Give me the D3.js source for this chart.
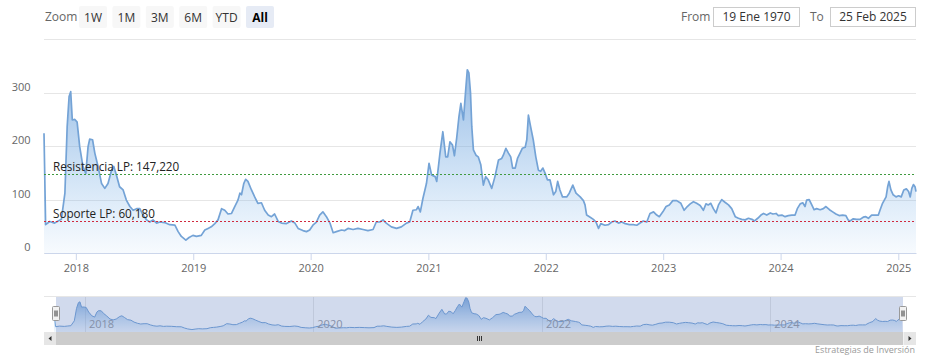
<!DOCTYPE html>
<html><head><meta charset="utf-8">
<script src="https://cdn.jsdelivr.net/npm/d3@7"></script>
<style>body{margin:0;background:#fff;} svg{display:block;font-family:"Open Sans",sans-serif;}</style>
</head><body><svg id="c" width="935" height="363"></svg>
<script>
// ---- data (date, value) ----
const s2017 = [["2017-09-24",224],["2017-09-29",53],["2017-10-12",59],["2017-10-27",56],["2017-11-07",60],["2017-11-17",63],["2017-11-28",112],["2017-12-05",236],["2017-12-11",293],["2017-12-16",302],["2017-12-21",249],["2017-12-29",250]];
const s2018 = [["2018-01-05",245],["2018-01-13",199],["2018-01-23",162],["2018-02-01",149],["2018-02-08",199],["2018-02-13",213],["2018-02-22",212],["2018-03-01",187],["2018-03-11",162],["2018-03-22",130],["2018-04-01",121],["2018-04-11",130],["2018-04-22",155],["2018-04-29",162],["2018-05-07",146],["2018-05-17",124],["2018-05-28",118],["2018-06-07",99],["2018-06-18",87],["2018-06-28",80],["2018-07-09",83],["2018-07-19",83],["2018-07-29",71],["2018-08-09",62],["2018-08-19",58],["2018-08-29",62],["2018-09-09",56],["2018-09-19",58],["2018-10-04",57],["2018-10-20",53],["2018-11-05",52],["2018-11-15",40],["2018-11-25",31],["2018-12-09",24],["2018-12-19",29],["2018-12-31",33]];
const s2019 = [["2019-01-11",31],["2019-01-26",33],["2019-02-06",43],["2019-02-16",46],["2019-02-26",49],["2019-03-09",55],["2019-03-19",62],["2019-03-30",83],["2019-04-09",80],["2019-04-19",73],["2019-04-30",74],["2019-05-10",87],["2019-05-20",99],["2019-05-26",112],["2019-05-31",109],["2019-06-07",130],["2019-06-13",138],["2019-06-20",134],["2019-07-01",118],["2019-07-11",105],["2019-07-21",93],["2019-08-01",94],["2019-08-11",80],["2019-08-22",71],["2019-09-01",68],["2019-09-11",73],["2019-09-22",59],["2019-10-02",56],["2019-10-18",55],["2019-11-02",60],["2019-11-13",56],["2019-11-23",46],["2019-12-08",42],["2019-12-19",40],["2019-12-29",43]];
const s2020 = [["2020-01-08",52],["2020-01-19",58],["2020-01-29",71],["2020-02-08",77],["2020-02-19",68],["2020-03-01",56],["2020-03-11",38],["2020-03-21",40],["2020-04-06",43],["2020-04-16",42],["2020-04-26",46],["2020-05-12",44],["2020-05-27",46],["2020-06-12",44],["2020-06-27",42],["2020-07-13",44],["2020-07-23",58],["2020-08-03",58],["2020-08-13",62],["2020-08-23",56],["2020-09-08",49],["2020-09-24",46],["2020-10-09",49],["2020-10-25",56],["2020-11-04",58],["2020-11-14",80],["2020-11-25",81],["2020-11-30",87],["2020-12-07",77],["2020-12-15",102],["2020-12-26",130]];
const s2021 = [["2021-01-03",168],["2021-01-11",146],["2021-01-22",143],["2021-01-27",134],["2021-02-06",187],["2021-02-15",227],["2021-02-24",180],["2021-03-02",180],["2021-03-09",208],["2021-03-17",202],["2021-03-23",182],["2021-03-30",215],["2021-04-06",255],["2021-04-12",280],["2021-04-20",249],["2021-04-27",305],["2021-05-02",343],["2021-05-07",337],["2021-05-12",300],["2021-05-16",236],["2021-05-21",193],["2021-05-29",183],["2021-06-05",180],["2021-06-13",165],["2021-06-21",127],["2021-06-28",143],["2021-07-06",137],["2021-07-17",121],["2021-07-27",143],["2021-08-07",174],["2021-08-17",177],["2021-08-22",183],["2021-08-30",196],["2021-09-07",187],["2021-09-14",180],["2021-09-20",159],["2021-09-28",159],["2021-10-05",177],["2021-10-13",187],["2021-10-20",196],["2021-10-29",198],["2021-11-03",212],["2021-11-08",258],["2021-11-15",236],["2021-11-23",212],["2021-12-01",180],["2021-12-09",155],["2021-12-16",153],["2021-12-23",159],["2021-12-30",149]];
const s2022 = [["2022-01-06",137],["2022-01-14",137],["2022-01-25",109],["2022-02-01",115],["2022-02-07",134],["2022-02-14",118],["2022-02-22",105],["2022-03-07",105],["2022-03-15",112],["2022-03-26",127],["2022-04-05",112],["2022-04-18",105],["2022-04-28",98],["2022-05-03",90],["2022-05-08",71],["2022-05-19",67],["2022-05-29",63],["2022-06-06",58],["2022-06-14",46],["2022-06-21",55],["2022-07-04",52],["2022-07-15",53],["2022-07-25",58],["2022-08-04",60],["2022-08-15",56],["2022-08-25",58],["2022-09-05",55],["2022-09-18",53],["2022-09-30",53],["2022-10-11",52],["2022-10-21",56],["2022-10-31",60],["2022-11-11",58],["2022-11-21",74],["2022-12-02",77],["2022-12-12",71],["2022-12-20",68],["2022-12-31",77]];
const s2023 = [["2023-01-10",87],["2023-01-20",90],["2023-01-31",98],["2023-02-12",98],["2023-02-25",93],["2023-03-07",80],["2023-03-17",87],["2023-03-26",92],["2023-04-05",96],["2023-04-15",93],["2023-04-26",89],["2023-05-06",80],["2023-05-14",92],["2023-05-21",90],["2023-05-29",93],["2023-06-06",83],["2023-06-14",75],["2023-06-22",90],["2023-07-02",100],["2023-07-12",95],["2023-07-23",90],["2023-08-02",83],["2023-08-13",68],["2023-08-23",65],["2023-09-02",63],["2023-09-13",62],["2023-09-23",65],["2023-10-04",63],["2023-10-12",60],["2023-10-22",65],["2023-11-01",71],["2023-11-09",74],["2023-11-19",71],["2023-11-30",75],["2023-12-08",73],["2023-12-18",74],["2023-12-25",70]];
const s2024 = [["2024-01-05",71],["2024-01-15",68],["2024-01-25",70],["2024-02-05",71],["2024-02-15",71],["2024-02-22",83],["2024-03-02",92],["2024-03-10",94],["2024-03-17",87],["2024-03-22",99],["2024-03-30",100],["2024-04-07",90],["2024-04-14",81],["2024-04-22",83],["2024-05-03",81],["2024-05-13",83],["2024-05-21",87],["2024-06-01",81],["2024-06-11",77],["2024-06-21",73],["2024-07-01",70],["2024-07-12",71],["2024-07-22",70],["2024-07-29",62],["2024-08-04",60],["2024-08-14",64],["2024-08-24",63],["2024-09-04",63],["2024-09-14",67],["2024-09-22",68],["2024-09-30",65],["2024-10-10",71],["2024-10-21",71],["2024-10-31",71],["2024-11-05",80],["2024-11-13",93],["2024-11-24",105],["2024-11-29",124],["2024-12-03",134],["2024-12-09",118],["2024-12-16",109],["2024-12-25",105]];
const s2025 = [["2025-01-02",107],["2025-01-10",105],["2025-01-18",118],["2025-01-26",120],["2025-02-02",115],["2025-02-07",105],["2025-02-12",121],["2025-02-17",128],["2025-02-22",124],["2025-02-25",115]];

const yTicks = [0, 100, 200, 300, 400];
const yLabelTicks = [0, 100, 200, 300];
const xTickYears = [2018, 2019, 2020, 2021, 2022, 2023, 2024, 2025];
const navTickYears = [2018, 2020, 2022, 2024];
const resistance = 147.22, resistanceLabel = "Resistencia LP: 147,220";
const support = 60.18, supportLabel = "Soporte LP: 60,180";
const zoomLabel = "Zoom";
const zoomButtons = ["1W", "1M", "3M", "6M", "YTD", "All"];
const selectedButton = "All";
const fromLabel = "From", fromValue = "19 Ene 1970";
const toLabel = "To", toValue = "25 Feb 2025";
const creditText = "Estrategias de Inversión";

// ---- build ----
const parse = d3.timeParse("%Y-%m-%d");
const data = [].concat(s2017, s2018, s2019, s2020, s2021, s2022, s2023, s2024, s2025)
  .map(([d, v]) => ({ date: parse(d), value: v }));

const svg = d3.select("#c");
const L = 44, R = 916, T = 39.3, B = 253;

const x = d3.scaleTime().domain(d3.extent(data, d => d.date)).range([L, R]);
const y = d3.scaleLinear().domain([0, 400]).range([B, T]);

const defs = svg.append("defs");
const g1 = defs.append("linearGradient").attr("id", "gMain").attr("gradientUnits", "userSpaceOnUse")
  .attr("x1", 0).attr("x2", 0).attr("y1", y(343)).attr("y2", B);
g1.append("stop").attr("offset", 0).attr("stop-color", "#6a9ed8").attr("stop-opacity", 0.7);
g1.append("stop").attr("offset", 1).attr("stop-color", "#7cb5ec").attr("stop-opacity", 0.06);

// gridlines
svg.append("g").selectAll("line").data(yTicks).join("line")
  .attr("x1", L).attr("x2", R).attr("y1", d => Math.round(y(d)) + 0.5).attr("y2", d => Math.round(y(d)) + 0.5)
  .attr("stroke", "#e6e6e6").attr("stroke-width", 1);

// y labels
svg.append("g").selectAll("text").data(yLabelTicks).join("text")
  .attr("x", 30.5).attr("y", d => y(d) - 2).attr("text-anchor", "end")
  .attr("font-size", 11).attr("fill", "#666").text(d => d);

// area + line
const area = d3.area().x(d => x(d.date)).y0(B).y1(d => y(d.value));
const line = d3.line().x(d => x(d.date)).y(d => y(d.value));
svg.append("path").datum(data).attr("d", area).attr("fill", "url(#gMain)");
svg.append("path").datum(data).attr("d", line).attr("fill", "none")
  .attr("stroke", "#74a3d6").attr("stroke-width", 1.7).attr("stroke-linejoin", "round");

// x axis
const xAxis = d3.axisBottom(x)
  .tickValues(xTickYears.map(yr => new Date(yr, 0, 1)))
  .tickFormat(d3.timeFormat("%Y")).tickSize(7).tickPadding(4).tickSizeOuter(0);
const xa = svg.append("g").attr("transform", `translate(0,${B})`).call(xAxis);
xa.select(".domain").attr("stroke", "#ccd6eb");
xa.selectAll(".tick line").attr("stroke", "#ccd6eb");
xa.selectAll(".tick text").attr("fill", "#666").attr("font-size", 11).attr("font-family", "Open Sans");

// plot lines
function plotLine(val, color, label) {
  const yy = Math.round(y(val)) + 0.5;
  svg.append("line").attr("x1", L).attr("x2", R).attr("y1", yy).attr("y2", yy)
    .attr("stroke", color).attr("stroke-width", 1).attr("stroke-dasharray", "2,2");
  svg.append("text").attr("x", 53).attr("y", y(val) - 3).attr("font-size", 11.7)
    .attr("fill", "#222").text(label);
}
plotLine(resistance, "#3f9a3f", resistanceLabel);
plotLine(support, "#d02a3e", supportLabel);

// ---- range selector ----
svg.append("text").attr("x", 45).attr("y", 21).attr("font-size", 12).attr("fill", "#666").text(zoomLabel);
const bx = d3.scalePoint().domain(zoomButtons).range([79, 246]);
const btn = svg.append("g").selectAll("g").data(zoomButtons).join("g")
  .attr("transform", d => `translate(${bx(d)},6)`);
btn.append("rect").attr("width", 28).attr("height", 22).attr("rx", 2)
  .attr("fill", d => d === selectedButton ? "#e6ebf5" : "#f7f7f7");
btn.append("text").attr("x", 14).attr("y", 15.5).attr("text-anchor", "middle").attr("font-size", 12)
  .attr("font-weight", d => d === selectedButton ? "bold" : "normal")
  .attr("fill", d => d === selectedButton ? "#000" : "#333").text(d => d);

svg.append("text").attr("x", 681).attr("y", 21).attr("font-size", 12).attr("fill", "#666").text(fromLabel);
svg.append("rect").attr("x", 713.5).attr("y", 7.5).attr("width", 86).attr("height", 19).attr("fill", "#fff").attr("stroke", "#ccc");
svg.append("text").attr("x", 756.5).attr("y", 21).attr("text-anchor", "middle").attr("font-size", 12).attr("fill", "#333").text(fromValue);
svg.append("text").attr("x", 810).attr("y", 21).attr("font-size", 12).attr("fill", "#666").text(toLabel);
svg.append("rect").attr("x", 830.5).attr("y", 7.5).attr("width", 85).attr("height", 19).attr("fill", "#fff").attr("stroke", "#ccc");
svg.append("text").attr("x", 873).attr("y", 21).attr("text-anchor", "middle").attr("font-size", 12).attr("fill", "#333").text(toValue);

// ---- navigator ----
const NT = 296, NB = 332, NL = 54, NR = 902;
const nx = d3.scaleTime().domain(x.domain()).range([NL, NR]);
const ny = d3.scaleLinear().domain([0, 360]).range([NB, NT]);
const g2 = defs.append("linearGradient").attr("id", "gNav").attr("gradientUnits", "userSpaceOnUse")
  .attr("x1", 0).attr("x2", 0).attr("y1", ny(343)).attr("y2", NB);
g2.append("stop").attr("offset", 0).attr("stop-color", "#5f95d2").attr("stop-opacity", 0.8);
g2.append("stop").attr("offset", 1).attr("stop-color", "#7cb5ec").attr("stop-opacity", 0.1);

svg.append("line").attr("x1", L).attr("x2", R).attr("y1", NT + 0.5).attr("y2", NT + 0.5).attr("stroke", "#e6e6e6");
svg.append("g").selectAll("line").data(navTickYears).join("line")
  .attr("x1", d => Math.round(nx(new Date(d, 0, 1))) + 0.5).attr("x2", d => Math.round(nx(new Date(d, 0, 1))) + 0.5)
  .attr("y1", NT).attr("y2", NB).attr("stroke", "#e6e6e6");
const narea = d3.area().x(d => nx(d.date)).y0(NB).y1(d => ny(d.value));
const nline = d3.line().x(d => nx(d.date)).y(d => ny(d.value));
svg.append("path").datum(data).attr("d", narea).attr("fill", "url(#gNav)");
svg.append("path").datum(data).attr("d", nline).attr("fill", "none").attr("stroke", "#6f9fd5").attr("stroke-width", 1);
// mask (selected range = all)
svg.append("rect").attr("x", 56).attr("y", NT + 1).attr("width", 903 - 56).attr("height", NB - NT - 1)
  .attr("fill", "rgba(102,133,194,0.3)");
svg.append("g").selectAll("text").data(navTickYears).join("text")
  .attr("x", d => nx(new Date(d, 0, 1)) + 4).attr("y", 328).attr("font-size", 11)
  .attr("fill", "#8590a8").text(d => d);
// handles
[56, 903].forEach(hx => {
  const h = svg.append("g").attr("transform", `translate(${hx - 3.5},306.5)`);
  h.append("rect").attr("width", 7).attr("height", 14).attr("rx", 1).attr("fill", "#f2f2f2").attr("stroke", "#999");
  h.append("line").attr("x1", 2.5).attr("x2", 2.5).attr("y1", 4).attr("y2", 10).attr("stroke", "#333");
  h.append("line").attr("x1", 4.5).attr("x2", 4.5).attr("y1", 4).attr("y2", 10).attr("stroke", "#333");
});
// scrollbar
svg.append("rect").attr("x", L).attr("y", NB).attr("width", R - L).attr("height", 13).attr("fill", "#f2f2f2");
svg.append("rect").attr("x", 56).attr("y", NB).attr("width", 903 - 56).attr("height", 13).attr("fill", "#cccccc");
svg.append("rect").attr("x", L).attr("y", NB).attr("width", 12).attr("height", 13).attr("fill", "#e6e6e6");
svg.append("rect").attr("x", 904).attr("y", NB).attr("width", 12).attr("height", 13).attr("fill", "#e6e6e6");
svg.append("path").attr("d", `M48.5,${NB + 6.5} L51.5,${NB + 4} L51.5,${NB + 9} Z`).attr("fill", "#333");
svg.append("path").attr("d", `M911.5,${NB + 6.5} L908.5,${NB + 4} L908.5,${NB + 9} Z`).attr("fill", "#333");
[477.5, 479.5, 481.5].forEach(gx => svg.append("line").attr("x1", gx).attr("x2", gx)
  .attr("y1", NB + 4).attr("y2", NB + 9).attr("stroke", "#333"));

// credits
svg.append("text").attr("x", 915).attr("y", 353).attr("text-anchor", "end").attr("font-size", 9)
  .attr("fill", "#999").text(creditText);
</script></body></html>
